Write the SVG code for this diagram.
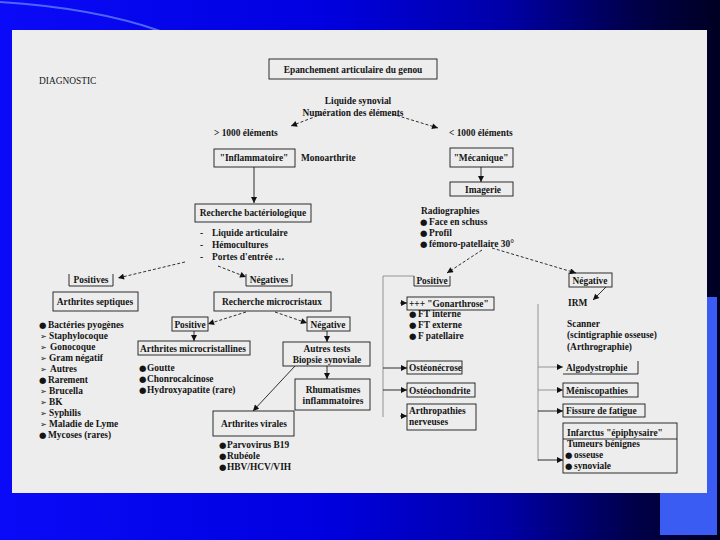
<svg xmlns="http://www.w3.org/2000/svg" width="720" height="540" viewBox="0 0 720 540">
<defs>
<linearGradient id="bg" x1="0" y1="0" x2="1" y2="0">
<stop offset="0" stop-color="#0a0af8"/>
<stop offset="0.45" stop-color="#0000e0"/>
<stop offset="0.7" stop-color="#0000a8"/>
<stop offset="0.88" stop-color="#00004a"/>
<stop offset="1" stop-color="#000022"/>
</linearGradient>
<marker id="ah" viewBox="0 0 10 10" refX="10" refY="5" markerWidth="7" markerHeight="6" markerUnits="userSpaceOnUse" orient="auto"><path d="M0,0 L10,5 L0,10 z" fill="#111"/></marker>
<style>
.t{font-family:"Liberation Serif","Times New Roman",serif;font-weight:bold;font-size:9.4px;fill:#141414}
.m{text-anchor:middle}
.n{font-weight:normal}
.b{font-family:"DejaVu Sans",sans-serif;font-size:8.5px;font-weight:normal}
.a{font-family:"DejaVu Sans",sans-serif;font-size:8px;font-weight:normal}
.box{fill:none;stroke:#1a1a1a;stroke-width:0.9}
.c{fill:none;stroke:#1a1a1a;stroke-width:0.9}
.g{fill:none;stroke:#8a8a8a;stroke-width:0.9}
.d{fill:none;stroke:#1a1a1a;stroke-width:0.9;stroke-dasharray:3 2}
</style>
</defs>

<rect width="720" height="540" fill="url(#bg)"/>
<path d="M0,2 Q95,8 160,31" fill="none" stroke="#5f7dff" stroke-width="2" opacity="0.8"/>
<rect x="660" y="297" width="57" height="238" fill="#3a5cf2"/>
<rect x="12" y="30" width="695" height="463" fill="#ededed"/>

<g id="connectors">
<line class="d" x1="322" y1="114" x2="291" y2="126" marker-end="url(#ah)"/>
<line class="d" x1="392" y1="114" x2="438" y2="128" marker-end="url(#ah)"/>
<line class="c" x1="254" y1="167" x2="254" y2="203" marker-end="url(#ah)"/>
<line class="c" x1="481" y1="167" x2="481" y2="182" marker-end="url(#ah)"/>
<line class="d" x1="185" y1="262" x2="118" y2="278" marker-end="url(#ah)"/>
<line class="d" x1="218" y1="266" x2="246" y2="277" marker-end="url(#ah)"/>
<line class="d" x1="246" y1="312" x2="208" y2="324" marker-end="url(#ah)"/>
<line class="d" x1="275" y1="312" x2="307" y2="323" marker-end="url(#ah)"/>
<line class="c" x1="194" y1="331" x2="194" y2="341" marker-end="url(#ah)"/>
<line class="c" x1="327" y1="331" x2="327" y2="342" marker-end="url(#ah)"/>
<line class="c" x1="327" y1="366" x2="327" y2="379" marker-end="url(#ah)"/>
<line class="c" x1="295" y1="366" x2="253" y2="411" marker-end="url(#ah)"/>
<line class="d" x1="482" y1="250" x2="447" y2="273" marker-end="url(#ah)"/>
<line class="d" x1="492" y1="248" x2="576" y2="273" marker-end="url(#ah)"/>
<line class="c" x1="606" y1="287" x2="593" y2="300" marker-end="url(#ah)"/>
<path class="g" d="M414,276 H383 V417"/>
<line class="c" x1="383" y1="368" x2="407" y2="368" marker-end="url(#ah)"/>
<line class="c" x1="383" y1="390" x2="407" y2="390" marker-end="url(#ah)"/>
<line class="c" x1="400" y1="303" x2="407" y2="303" marker-end="url(#ah)"/>
<line class="c" x1="400" y1="416" x2="407" y2="416" marker-end="url(#ah)"/>
<line class="g" x1="538" y1="304" x2="538" y2="461"/>
<line class="g" x1="538" y1="367" x2="563" y2="367" marker-end="url(#ah)"/>
<line class="g" x1="538" y1="390" x2="563" y2="390" marker-end="url(#ah)"/>
<line class="c" x1="538" y1="411" x2="563" y2="411" marker-end="url(#ah)"/>
<line class="c" x1="538" y1="460" x2="563" y2="460" marker-end="url(#ah)"/>
</g>

<g id="diagnostic"><text class="t n" x="39" y="84">DIAGNOSTIC</text></g>

<g id="epanchement"><rect class="box" x="269" y="59" width="168" height="20"/><text class="t m" x="353" y="73">Epanchement articulaire du genou</text></g>

<g id="liquide"><text class="t m" x="358" y="104">Liquide synovial</text><text class="t m" x="353" y="116">Numération des éléments</text></g>

<g id="sup1000"><text class="t" x="214" y="136">&gt; 1000 éléments</text></g>
<g id="inf1000"><text class="t" x="449" y="136">&lt; 1000 éléments</text></g>

<g id="inflammatoire"><rect class="box" x="214" y="149" width="81" height="18"/><text class="t m" x="254" y="161">"Inflammatoire"</text></g>
<g id="monoarthrite"><text class="t" x="301" y="161">Monoarthrite</text></g>

<g id="mecanique"><rect class="box" x="450" y="148" width="63" height="19"/><text class="t m" x="481" y="161">"Mécanique"</text></g>
<g id="imagerie"><rect class="box" x="450" y="182" width="63" height="14"/><text class="t m" x="483" y="192.5">Imagerie</text></g>

<g id="bacterio"><rect class="box" x="195" y="204" width="116" height="18"/><text class="t m" x="253" y="216">Recherche bactériologique</text>
<text class="t" x="200" y="236">-</text><text class="t" x="212" y="236">Liquide articulaire</text>
<text class="t" x="200" y="248">-</text><text class="t" x="212" y="248">Hémocultures</text>
<text class="t" x="200" y="260">-</text><text class="t" x="212" y="260">Portes d'entrée …</text></g>

<g id="radiographies"><text class="t" x="421" y="214">Radiographies</text>
<text class="t" x="420" y="225"><tspan class="b">●</tspan><tspan x="429">Face en schuss</tspan></text>
<text class="t" x="420" y="236"><tspan class="b">●</tspan><tspan x="429">Profil</tspan></text>
<text class="t" x="420" y="247"><tspan class="b">●</tspan><tspan x="429">fémoro-patellaire 30°</tspan></text></g>

<g id="positives"><path class="box" d="M69,274 V286 H113 V274"/><text class="t m" x="91" y="283">Positives</text></g>
<g id="negatives"><path class="box" d="M246,274 V286 H292 V274"/><text class="t m" x="269" y="283">Négatives</text></g>

<g id="positive-r"><path class="box" d="M414,276 V286 H450 V276"/><text class="t m" x="432" y="284">Positive</text></g>
<g id="negative-r"><rect class="box" x="569" y="273" width="43" height="14"/><text class="t m" x="590" y="284">Négative</text></g>

<g id="septiques"><rect class="box" x="53" y="292" width="85" height="19"/><text class="t m" x="95" y="305">Arthrites septiques</text>
<text class="t" x="39" y="328"><tspan class="b">●</tspan><tspan x="48">Bactéries pyogènes</tspan></text>
<text class="t" x="40" y="339"><tspan class="a">➢</tspan><tspan x="49">Staphylocoque</tspan></text>
<text class="t" x="40" y="350"><tspan class="a">➢</tspan><tspan x="50">Gonocoque</tspan></text>
<text class="t" x="40" y="361"><tspan class="a">➢</tspan><tspan x="49">Gram négatif</tspan></text>
<text class="t" x="40" y="372"><tspan class="a">➢</tspan><tspan x="50">Autres</tspan></text>
<text class="t" x="39" y="383"><tspan class="b">●</tspan><tspan x="48">Rarement</tspan></text>
<text class="t" x="40" y="394"><tspan class="a">➢</tspan><tspan x="49">Brucella</tspan></text>
<text class="t" x="40" y="405"><tspan class="a">➢</tspan><tspan x="49">BK</tspan></text>
<text class="t" x="40" y="416"><tspan class="a">➢</tspan><tspan x="49">Syphilis</tspan></text>
<text class="t" x="40" y="427"><tspan class="a">➢</tspan><tspan x="49">Maladie de Lyme</tspan></text>
<text class="t" x="39" y="438"><tspan class="b">●</tspan><tspan x="48">Mycoses (rares)</tspan></text></g>

<g id="microcristaux"><rect class="box" x="214" y="292" width="117" height="19"/><text class="t m" x="272" y="305">Recherche microcristaux</text></g>

<g id="gonarthrose"><rect class="box" x="407" y="297" width="87" height="13"/><text class="t" x="409" y="306.5">+++ "Gonarthrose"</text>
<text class="t" x="409" y="317"><tspan class="b">●</tspan><tspan x="418">FT interne</tspan></text>
<text class="t" x="409" y="328"><tspan class="b">●</tspan><tspan x="418">FT externe</tspan></text>
<text class="t" x="409" y="339"><tspan class="b">●</tspan><tspan x="418">F patellaire</tspan></text></g>

<g id="irm"><text class="t" x="568" y="306">IRM</text>
<text class="t" x="567" y="327">Scanner</text>
<text class="t" x="567" y="338">(scintigraphie osseuse)</text>
<text class="t" x="567" y="350">(Arthrographie)</text></g>

<g id="positive-m"><rect class="box" x="172" y="317" width="36" height="14"/><text class="t m" x="190" y="327.5">Positive</text></g>
<g id="negative-m"><rect class="box" x="307" y="317" width="43" height="14"/><text class="t m" x="328" y="327.5">Négative</text></g>

<g id="microcristallines"><rect class="box" x="138" y="341" width="112" height="14"/><text class="t" x="140" y="351.5">Arthrites microcristallines</text>
<text class="t" x="139" y="371"><tspan class="b">●</tspan><tspan x="147">Goutte</tspan></text>
<text class="t" x="139" y="382"><tspan class="b">●</tspan><tspan x="147">Chonrocalcinose</tspan></text>
<text class="t" x="139" y="393"><tspan class="b">●</tspan><tspan x="147">Hydroxyapatite (rare)</tspan></text></g>

<g id="autres-tests"><rect class="box" x="283" y="342" width="87" height="24"/><text class="t m" x="327" y="352">Autres tests</text><text class="t m" x="327" y="363">Biopsie synoviale</text></g>

<g id="rhumatismes"><rect class="box" x="295" y="379" width="75" height="31"/><text class="t m" x="333" y="393">Rhumatismes</text><text class="t m" x="333" y="404">inflammatoires</text></g>

<g id="virales"><rect class="box" x="213" y="411" width="81" height="25"/><text class="t m" x="254" y="427">Arthrites virales</text>
<text class="t" x="219" y="448"><tspan class="b">●</tspan><tspan x="227">Parvovirus B19</tspan></text>
<text class="t" x="219" y="459"><tspan class="b">●</tspan><tspan x="227">Rubéole</tspan></text>
<text class="t" x="219" y="470"><tspan class="b">●</tspan><tspan x="227">HBV/HCV/VIH</tspan></text></g>

<g id="osteonecrose"><rect class="box" x="407" y="361" width="55" height="13"/><text class="t" x="409" y="371">Ostéonécrose</text></g>
<g id="osteochondrite"><rect class="box" x="407" y="383" width="68" height="14"/><text class="t" x="409" y="393.5">Ostéochondrite</text></g>
<g id="arthropathies"><rect class="box" x="407" y="404" width="69" height="26"/><text class="t" x="409" y="414">Arthropathies</text><text class="t" x="409" y="425">nerveuses</text></g>

<g id="algodystrophie"><path class="box" d="M563,374 H638 V361"/><text class="t" x="566" y="371">Algodystrophie</text></g>
<g id="meniscopathies"><rect class="box" x="563" y="383" width="75" height="14"/><text class="t" x="566" y="393.5">Méniscopathies</text></g>
<g id="fissure"><rect class="box" x="563" y="404" width="82" height="13"/><text class="t" x="566" y="414">Fissure de fatigue</text></g>

<g id="infarctus"><rect class="box" x="563" y="423" width="114" height="50"/><line class="box" x1="563" y1="439" x2="677" y2="439"/>
<text class="t" x="567" y="435.5">Infarctus "épiphysaire"</text>
<text class="t" x="567" y="447">Tumeurs bénignes</text>
<text class="t" x="565" y="458"><tspan class="b">●</tspan><tspan x="574">osseuse</tspan></text>
<text class="t" x="565" y="469"><tspan class="b">●</tspan><tspan x="574">synoviale</tspan></text></g>
</svg>
